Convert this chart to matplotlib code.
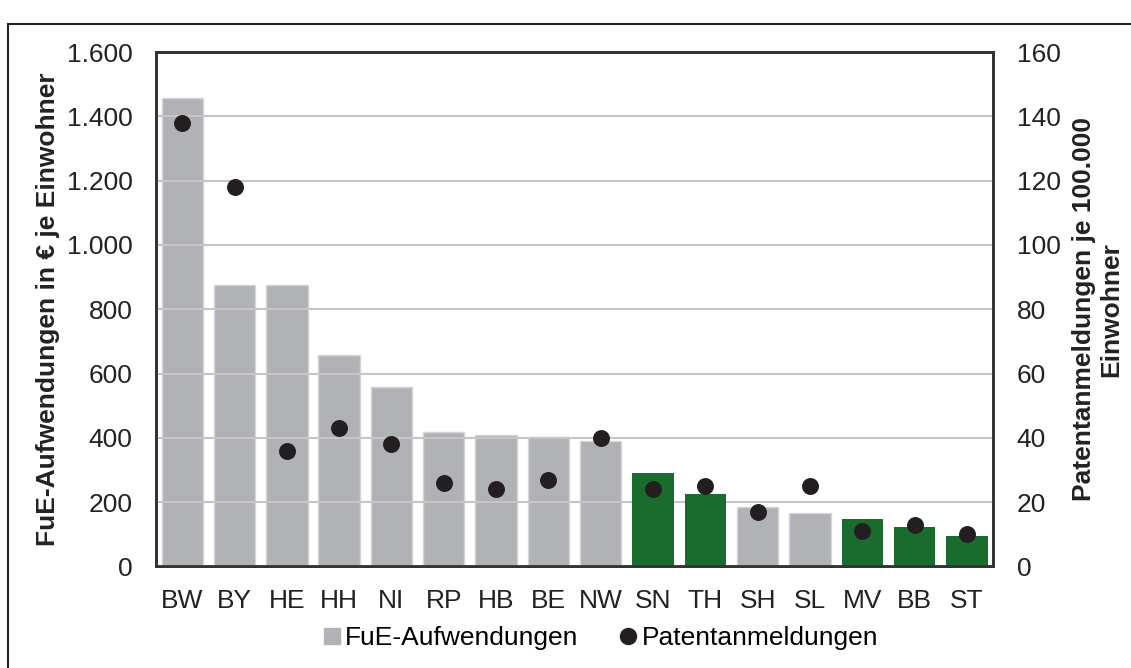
import matplotlib
matplotlib.use("Agg")
import matplotlib.pyplot as plt
from matplotlib.ticker import FuncFormatter, MultipleLocator
from matplotlib.lines import Line2D
from matplotlib.patches import Rectangle
import numpy as np

plt.rcParams['font.family'] = ['Liberation Sans', 'DejaVu Sans']

laender = ['BW', 'BY', 'HE', 'HH', 'NI', 'RP', 'HB', 'BE', 'NW',
           'SN', 'TH', 'SH', 'SL', 'MV', 'BB', 'ST']
fue = [1458, 876, 875, 658, 557, 419, 408, 402, 390,
       290, 225, 185, 167, 147, 123, 95]
patente = [138, 118, 36, 43, 38, 26, 24, 27, 40,
           24, 25, 17, 25, 11, 13, 10]
ost = ['SN', 'TH', 'MV', 'BB', 'ST']

grau = '#b1b2b5'
gruen = '#1a6b2e'
dunkel = '#231f20'

fig = plt.figure(figsize=(11.31, 6.68), dpi=100)
ax = fig.add_axes([0.138, 0.152, 0.740, 0.770])
ax2 = ax.twinx()

x = np.arange(len(laender))
for xi, land, wert in zip(x, laender, fue):
    if land in ost:
        ax.bar(xi, wert, width=0.79, color=gruen, zorder=3)
    else:
        ax.bar(xi, wert, width=0.79, color=grau, edgecolor='#d4d5d7',
               linewidth=1, zorder=1)

ax.set_ylim(0, 1600)
ax.set_xlim(-0.5, len(laender) - 0.5)
ax.yaxis.set_major_locator(MultipleLocator(200))
ax.yaxis.set_major_formatter(FuncFormatter(lambda v, p: '{:,.0f}'.format(v).replace(',', '.')))
ax.grid(axis='y', color='#c6c6c6', linewidth=1.5, zorder=2)
ax.set_axisbelow(False)
ax.set_xticks(x)
ax.set_xticklabels(laender)

ax2.scatter(x, patente, s=125, color=dunkel, zorder=5)
ax2.set_ylim(0, 160)
ax2.yaxis.set_major_locator(MultipleLocator(20))

for a in (ax, ax2):
    a.tick_params(length=0, labelsize=19, colors='#222222', pad=17)
    for s in a.spines.values():
        s.set_color('#333333')
        s.set_linewidth(2)
ax.tick_params(axis='x', pad=16)

ax.set_ylabel('FuE-Aufwendungen in € je Einwohner', fontsize=19, fontweight='bold',
              color='#222222', labelpad=5)
ax2.set_ylabel('Patentanmeldungen je 100.000\nEinwohner', fontsize=19, fontweight='bold',
               color='#222222', rotation=90, labelpad=8, linespacing=1.2)

handles = [Line2D([], [], marker='s', linestyle='none', color=grau, markersize=11.5),
           Line2D([], [], marker='o', linestyle='none', color=dunkel, markersize=11.5)]
fig.legend(handles, ['FuE-Aufwendungen', 'Patentanmeldungen'], loc='center',
           bbox_to_anchor=(0.53, 0.045), ncol=2, frameon=False, fontsize=19,
           handletextpad=0.1, columnspacing=1.5, handlelength=0.8)

fig.patches.append(Rectangle((8 / 1131, -0.01), 1.0, 1 - 24 / 668 + 0.01,
                             transform=fig.transFigure, fill=False,
                             edgecolor='#222222', linewidth=1.5))

fig.savefig('out.png', dpi=100)
